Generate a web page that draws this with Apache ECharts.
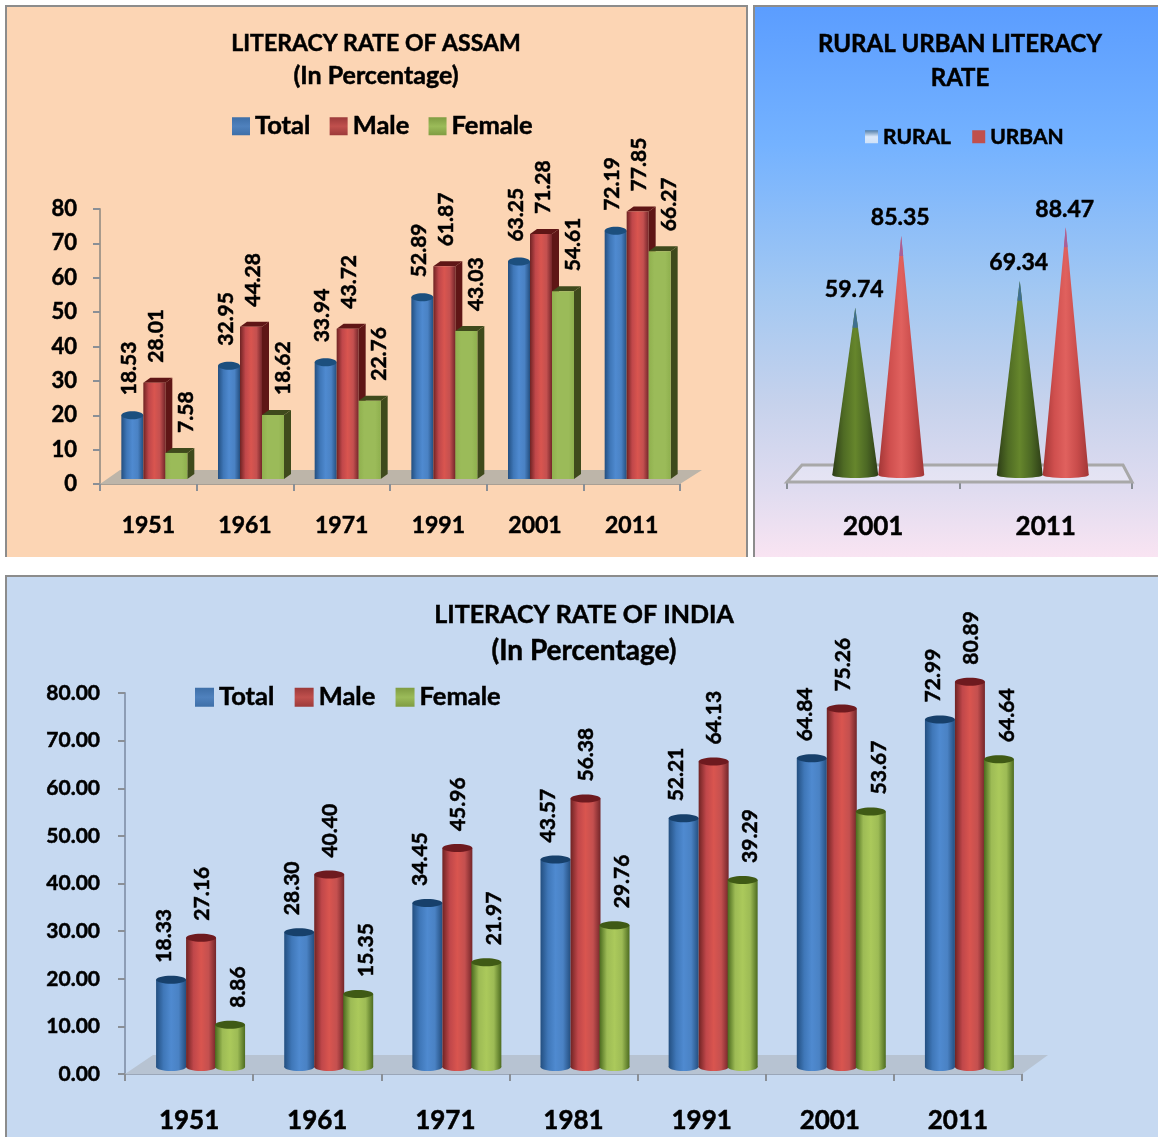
<!DOCTYPE html>
<html>
<head>
<meta charset="utf-8">
<script src="https://cdn.jsdelivr.net/npm/echarts@6/dist/echarts.min.js"></script>
<style>
  html, body { margin: 0; padding: 0; background: #fff; width: 1158px; height: 1137px; overflow: hidden; }
  .panel { position: absolute; box-sizing: border-box; border: 0 solid #8c8c8c; }
  #assamBg { left: 5px; top: 5px; width: 743px; height: 552px; background: #FCD5B4; border-width: 2px 2px 0 2px; }
  #ruralBg { left: 753px; top: 5px; width: 405px; height: 552px; border-width: 2px 0 0 2px;
    background: linear-gradient(180deg, #5b9dff 0%, #74b2ff 25%, #a3c8f2 52%, #c6d2ec 72%, #e0dcf0 88%, #f9e4f2 100%); }
  #indiaBg { left: 5px; top: 575px; width: 1153px; height: 562px; background: #C6D9F1; border-width: 2px 0 0 2px; }
  #chart { position: absolute; left: 0; top: 0; width: 1158px; height: 1137px; }
</style>
</head>
<body>
<div class="panel" id="assamBg"></div>
<div class="panel" id="ruralBg"></div>
<div class="panel" id="indiaBg"></div>
<div id="chart"></div>
<script>
const assamYears = ['1951', '1961', '1971', '1991', '2001', '2011'];
const assamTotal = [18.53, 32.95, 33.94, 52.89, 63.25, 72.19];
const assamMale = [28.01, 44.28, 43.72, 61.87, 71.28, 77.85];
const assamFemale = [7.58, 18.62, 22.76, 43.03, 54.61, 66.27];

const ruralYears = ['2001', '2011'];
const ruralValues = [59.74, 69.34];
const urbanValues = [85.35, 88.47];

const indiaYears = ['1951', '1961', '1971', '1981', '1991', '2001', '2011'];
const indiaTotal = [18.33, 28.30, 34.45, 43.57, 52.21, 64.84, 72.99];
const indiaMale = [27.16, 40.40, 45.96, 56.38, 64.13, 75.26, 80.89];
const indiaFemale = [8.86, 15.35, 21.97, 29.76, 39.29, 53.67, 64.64];

const FONT = 'Lato';
const HEAVY = { textBorderColor: '#000', textBorderWidth: 0.5 };
const G = echarts.graphic.LinearGradient;

function hGrad(stops) {
  return new G(0, 0, 1, 0, stops.map((c, i) => ({ offset: i / (stops.length - 1), color: c })));
}

const BLUE = ['#234f80', '#3f77b8', '#4f8ad0', '#4a82c4', '#244f80'];
const RED = ['#6f2323', '#c0474a', '#d9554f', '#c4504f', '#74262a'];
const GREEN = ['#4a6a1e', '#9dbb55', '#abc95b', '#9dbb55', '#4d6c20'];

function dataLabel(x, y, text, size) {
  return {
    type: 'text', x: x, y: y, rotation: Math.PI / 2, z2: 20,
    style: { text: text, fontFamily: FONT, fontWeight: 'bold', fontSize: size, fill: '#000', stroke: '#000', lineWidth: 0.5, align: 'left', verticalAlign: 'middle' }
  };
}

// Assam chart: blue is a cylinder, red and green are boxes with a dark top and side
function assamSeries(name, values, offset, labelOffset, kind, face, dark) {
  return {
    name: name, type: 'custom', xAxisIndex: 0, yAxisIndex: 0, z: 3,
    itemStyle: { color: face[1] },
    data: values.map((v, i) => [i, v]),
    encode: { x: 0, y: 1 },
    silent: true,
    renderItem(params, api) {
      const p = api.coord([api.value(0), api.value(1)]);
      const base = api.coord([api.value(0), 0])[1] - 5;
      const top = p[1] - 5;
      const w = 22, d = 7, r = 5;
      const cx = p[0] + offset;
      const l = cx - w / 2, rt = cx + w / 2;
      const kids = [];
      if (kind === 'box') {
        kids.push({ type: 'polygon', shape: { points: [[rt, top], [rt + d, top - r], [rt + d, base - r], [rt, base]] }, style: { fill: dark } });
        kids.push({ type: 'polygon', shape: { points: [[l, top], [l + d, top - r], [rt + d, top - r], [rt, top]] }, style: { fill: dark } });
        kids.push({ type: 'rect', shape: { x: l, y: top, width: w, height: base - top }, style: { fill: hGrad(face) } });
      } else {
        kids.push({ type: 'rect', shape: { x: l, y: top, width: w, height: base - top }, style: { fill: hGrad(face) } });
        kids.push({ type: 'ellipse', shape: { cx: cx, cy: top, rx: w / 2, ry: 4 }, style: { fill: dark } });
      }
      kids.push(dataLabel(p[0] + labelOffset, p[1] - 25, values[params.dataIndex].toFixed(2), 21));
      return { type: 'group', children: kids };
    }
  };
}

function indiaSeries(name, values, offset, labelOffset, face, dark) {
  return {
    name: name, type: 'custom', xAxisIndex: 2, yAxisIndex: 2, z: 3,
    itemStyle: { color: face[1] },
    data: values.map((v, i) => [i, v]),
    encode: { x: 0, y: 1 },
    silent: true,
    renderItem(params, api) {
      const p = api.coord([api.value(0), api.value(1)]);
      const base = api.coord([api.value(0), 0])[1] - 7;
      const top = p[1] - 7;
      const w = 30;
      const cx = p[0] + offset;
      return {
        type: 'group',
        children: [
          { type: 'ellipse', shape: { cx: cx, cy: base, rx: w / 2, ry: 4 }, style: { fill: hGrad(face) } },
          { type: 'rect', shape: { x: cx - w / 2, y: top, width: w, height: base - top }, style: { fill: hGrad(face) } },
          { type: 'ellipse', shape: { cx: cx, cy: top, rx: w / 2, ry: 4 }, style: { fill: dark } },
          dataLabel(p[0] + labelOffset, top - 17, values[params.dataIndex].toFixed(2), 21)
        ]
      };
    }
  };
}

// second group of cones sits a little left of its band in the reference
const coneShift = [5, -3];

function coneSeries(name, values, offset, stops, tip) {
  return {
    name: name, type: 'custom', xAxisIndex: 1, yAxisIndex: 1, z: 3,
    itemStyle: { color: stops[1] },
    data: values.map((v, i) => [i, v]),
    encode: { x: 0, y: 1 },
    silent: true,
    renderItem(params, api) {
      const i = params.dataIndex;
      const p = api.coord([api.value(0), api.value(1)]);
      const base = api.coord([api.value(0), 0])[1] - 7;
      const apex = p[1] - 7;
      const cx = p[0] + coneShift[i] + offset;
      const hw = 23, tipH = 20;
      const tipW = hw * tipH / (base - apex);
      return {
        type: 'group',
        children: [
          { type: 'ellipse', shape: { cx: cx, cy: base, rx: hw, ry: 3 }, style: { fill: hGrad(stops) } },
          { type: 'polygon', shape: { points: [[cx, apex], [cx + hw, base], [cx - hw, base]] }, style: { fill: hGrad(stops) } },
          { type: 'polygon', shape: { points: [[cx, apex], [cx + tipW, apex + tipH], [cx - tipW, apex + tipH]] }, style: { fill: tip } },
          {
            type: 'text', x: cx - 1, y: apex - 18, z2: 20,
            style: { text: values[i].toFixed(2), fontFamily: FONT, fontWeight: 'bold', fontSize: 23, fill: '#000', stroke: '#000', lineWidth: 0.5, align: 'center', verticalAlign: 'middle' }
          }
        ]
      };
    }
  };
}

// floor of the fake 3D plot, one per grid
function floorSeries(axisIndex, depthX, depthY, extra, fill, stroke, strokeW) {
  return {
    type: 'custom', xAxisIndex: axisIndex, yAxisIndex: axisIndex, z: 1, silent: true,
    data: [[0, 0]],
    encode: { x: 0, y: 1 },
    renderItem(params) {
      const c = params.coordSys;
      const b = c.y + c.height, l = c.x, r = c.x + c.width;
      return {
        type: 'polygon',
        shape: { points: [[l, b], [l + depthX, b - depthY], [r + extra, b - depthY], [r, b]] },
        style: { fill: fill, stroke: stroke, lineWidth: strokeW }
      };
    }
  };
}

function titleOf(text, x, y, size, lh) {
  return {
    text: text, left: x, top: y, textAlign: 'center',
    textStyle: Object.assign({ fontFamily: FONT, fontWeight: 'bold', fontSize: size, lineHeight: lh, color: '#000' }, HEAVY)
  };
}

function legendOf(names, left, top, size, fontSize, gap, swatches) {
  return {
    left: left, top: top, itemWidth: size, itemHeight: size, itemGap: gap, selectedMode: false,
    icon: 'rect',
    data: names.map((n, i) => ({ name: n, icon: 'rect', itemStyle: { color: swatches[i] } })),
    textStyle: Object.assign({ fontFamily: FONT, fontWeight: 'bold', fontSize: fontSize, color: '#000' }, HEAVY)
  };
}

function vGrad(a, b, c) {
  return new G(0, 0, 0, 1, [{ offset: 0, color: a }, { offset: 0.5, color: b }, { offset: 1, color: c }]);
}

function catAxis(gridIndex, years, margin, size, lineColor) {
  return {
    type: 'category', gridIndex: gridIndex, data: years,
    axisLine: { show: true, lineStyle: { color: lineColor, width: 2 } },
    axisTick: { show: true, alignWithLabel: false, length: 7, lineStyle: { color: '#8a8f96', width: 2 } },
    axisLabel: Object.assign({ margin: margin, fontFamily: FONT, fontWeight: 'bold', fontSize: size, color: '#000', interval: 0 }, HEAVY)
  };
}

const SWATCHES = [vGrad('#3e6fa8', '#4f81bd', '#3e6fa8'), vGrad('#9c3a3a', '#c0504d', '#9c3a3a'), vGrad('#7f9c42', '#9bbb59', '#7f9c42')];

const option = {
  animation: false,
  title: [
    titleOf('LITERACY RATE OF ASSAM', 371, 23, 23, 32),
    titleOf('(In Percentage)', 371, 55, 25, 32),
    titleOf('RURAL URBAN LITERACY\nRATE', 955, 22, 24, 34),
    titleOf('LITERACY RATE OF INDIA', 579, 592, 25, 36),
    titleOf('(In Percentage)', 579, 628, 28, 36)
  ],
  legend: [
    legendOf(['Total', 'Male', 'Female'], 227, 108, 18, 25.5, 19, SWATCHES),
    legendOf(['RURAL', 'URBAN'], 860, 121, 13, 21, 21, [vGrad('#4f7ca8', '#dbe9fb', '#cfe2f8'), '#c0504d']),
    legendOf(['Total', 'Male', 'Female'], 190, 679, 19, 25.5, 20, SWATCHES)
  ],
  grid: [
    { left: 100, top: 209, width: 580, height: 275 },
    { left: 787, top: 202, width: 345, height: 280 },
    { left: 125, top: 693, width: 897, height: 381 }
  ],
  xAxis: [
    catAxis(0, assamYears, 30, 23, '#a89f94'),
    catAxis(1, ruralYears, 32, 26, '#a8a8a8'),
    catAxis(2, indiaYears, 34, 26, '#9aa6b8')
  ],
  yAxis: [
    {
      type: 'value', gridIndex: 0, min: 0, max: 80, interval: 10, splitLine: { show: false },
      axisLine: { show: true, lineStyle: { color: '#a89a8c', width: 2 } },
      axisTick: { show: true, length: 7, lineStyle: { color: '#8a8f96', width: 2 } },
      axisLabel: Object.assign({ margin: 23, padding: [8, 0, 0, 0], fontFamily: FONT, fontWeight: 'bold', fontSize: 22, color: '#000' }, HEAVY)
    },
    { type: 'value', gridIndex: 1, min: 0, max: 100, show: false, splitLine: { show: false } },
    {
      type: 'value', gridIndex: 2, min: 0, max: 80, interval: 10, splitLine: { show: false },
      axisLine: { show: true, lineStyle: { color: '#8d9db5', width: 2 } },
      axisTick: { show: true, length: 7, lineStyle: { color: '#8a8f96', width: 2 } },
      axisLabel: Object.assign({ margin: 25, padding: [8, 0, 0, 0], fontFamily: FONT, fontWeight: 'bold', fontSize: 21, color: '#000', formatter: v => v.toFixed(2) }, HEAVY)
    }
  ],
  series: [
    floorSeries(0, 20, 14, 22, '#bdb5a9', 'rgba(0,0,0,0)', 0),
    floorSeries(1, 15, 17, -9, 'rgba(255,255,255,0.25)', '#a8a8a8', 3),
    floorSeries(2, 28, 19, 26, '#b7c3d2', 'rgba(0,0,0,0)', 0),
    assamSeries('Total', assamTotal, -16, -19, 'cyl', BLUE, '#1c4f7e'),
    assamSeries('Male', assamMale, 6, 8, 'box', RED, '#5f1616'),
    assamSeries('Female', assamFemale, 28, 38, 'box', ['#8fb04e', '#9bbb59', '#9bbb59', '#9bbb59', '#8fb04e'], '#3f4a1c'),
    coneSeries('RURAL', ruralValues, -23, ['#2c3c16', '#4f6b24', '#66862c', '#4c6824', '#2c3c16'], '#3f6f8f'),
    coneSeries('URBAN', urbanValues, 23, ['#a23636', '#cf4f4e', '#e0615e', '#c94c4b', '#a23636'], '#a75f9a'),
    indiaSeries('Total', indiaTotal, -18, -25, BLUE, '#17406b'),
    indiaSeries('Male', indiaMale, 12, 13, RED, '#6e1a1f'),
    indiaSeries('Female', indiaFemale, 41, 49, GREEN, '#3f5a15')
  ]
};

const chart = echarts.init(document.getElementById('chart'), null, { renderer: 'canvas' });
chart.setOption(option);
</script>
</body>
</html>
